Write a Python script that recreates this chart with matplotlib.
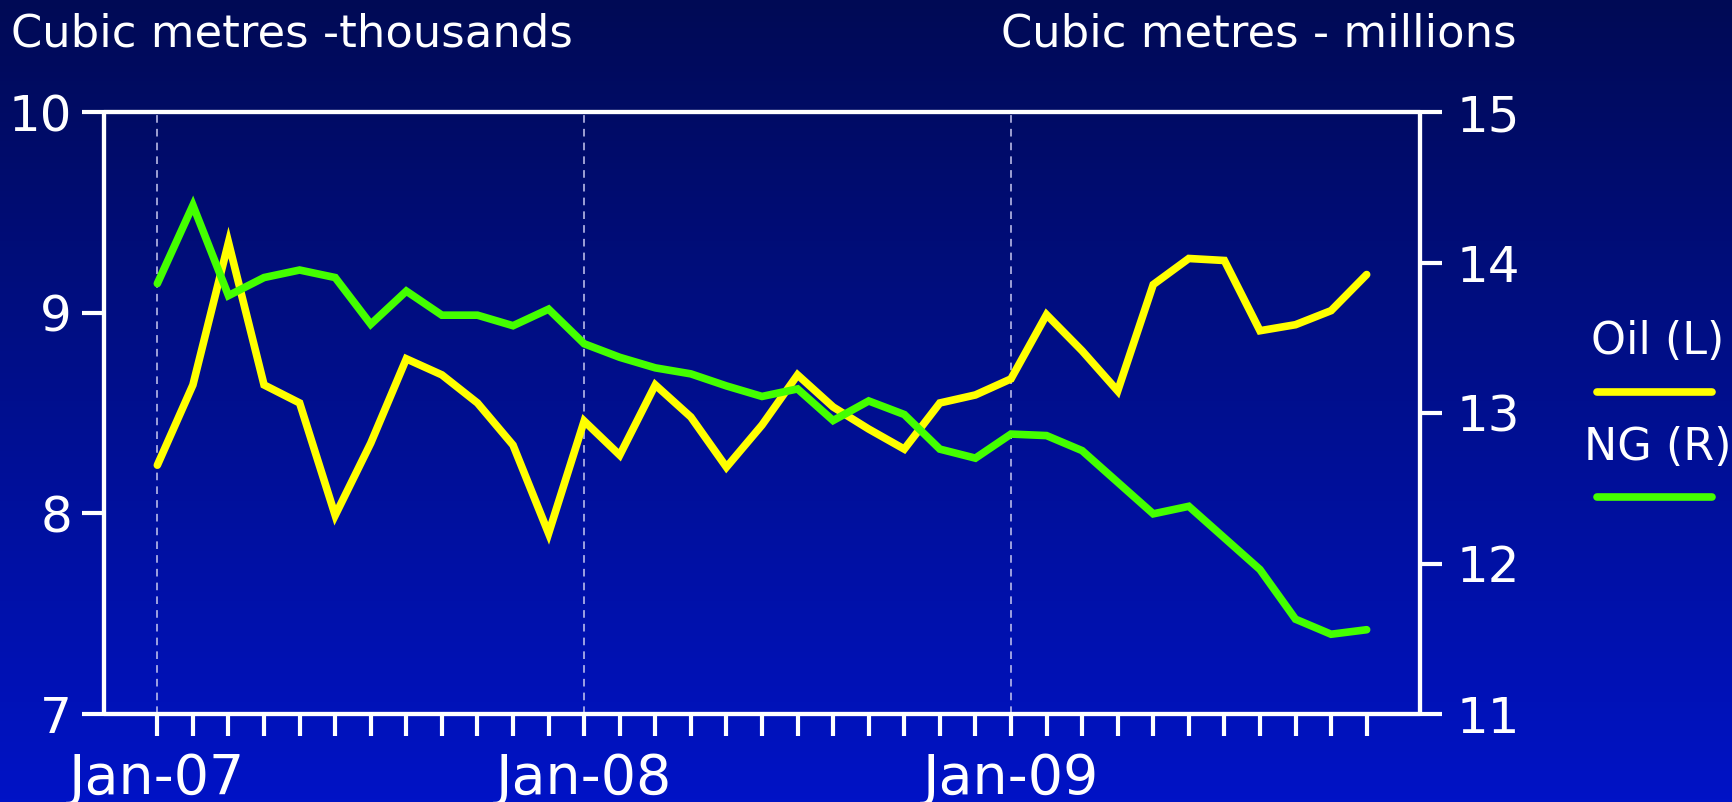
import numpy as np
import matplotlib
matplotlib.use("Agg")
import matplotlib.pyplot as plt
from matplotlib.lines import Line2D
from matplotlib.colors import LinearSegmentedColormap

# ---------------- data ----------------
month_labels = ["Jan-07", "Feb-07", "Mar-07", "Apr-07", "May-07", "Jun-07", "Jul-07", "Aug-07",
                "Sep-07", "Oct-07", "Nov-07", "Dec-07",
                "Jan-08", "Feb-08", "Mar-08", "Apr-08", "May-08", "Jun-08", "Jul-08", "Aug-08",
                "Sep-08", "Oct-08", "Nov-08", "Dec-08",
                "Jan-09", "Feb-09", "Mar-09", "Apr-09", "May-09", "Jun-09", "Jul-09", "Aug-09",
                "Sep-09", "Oct-09", "Nov-09"]
shown_labels = ["Jan-07", "Jan-08", "Jan-09"]

oil = [8.24, 8.64, 9.35, 8.64, 8.55, 7.99, 8.35, 8.77, 8.69, 8.55, 8.34, 7.90,
       8.46, 8.29, 8.64, 8.48, 8.23, 8.44, 8.69, 8.53, 8.42, 8.32, 8.55, 8.59,
       8.67, 8.99, 8.81, 8.61, 9.14, 9.27, 9.26, 8.91, 8.94, 9.01, 9.19]

ng = [13.86, 14.38, 13.78, 13.90, 13.95, 13.90, 13.59, 13.81, 13.65, 13.65, 13.58, 13.69,
      13.46, 13.37, 13.30, 13.26, 13.18, 13.11, 13.16, 12.95, 13.08, 12.99, 12.76, 12.70,
      12.86, 12.85, 12.75, 12.54, 12.33, 12.38, 12.17, 11.96, 11.63, 11.53, 11.56]

left_ticks = [7, 8, 9, 10]
right_ticks = [11, 12, 13, 14, 15]

left_title = "Cubic metres -thousands"
right_title = "Cubic metres - millions"
series_names = ["Oil (L)", "NG (R)"]

# ---------------- style ----------------
plt.rcParams['font.family'] = ['DejaVu Sans']
WHITE = "white"
OIL_C = "#ffff00"
NG_C = "#44ff00"

fig = plt.figure(figsize=(17.32, 8.02), dpi=100)

# gradient background
bg = fig.add_axes([0, 0, 1, 1], zorder=-10)
cmap = LinearSegmentedColormap.from_list("bg", ["#000a55", "#000f8e", "#0013c6"])
grad = np.linspace(0, 1, 256).reshape(-1, 1)
bg.imshow(grad, aspect="auto", cmap=cmap, extent=[0, 1, 0, 1], origin="upper")
bg.set_axis_off()

ax = fig.add_axes([104 / 1732, 1 - 714 / 802, (1420 - 104) / 1732, (714 - 112) / 802])
ax.set_facecolor("none")
ax2 = ax.twinx()
ax2.set_facecolor("none")

x = np.arange(len(month_labels))

ax.plot(x, oil, color=OIL_C, lw=5.5, solid_joinstyle="miter", solid_capstyle="round", zorder=3)
ax2.plot(x, ng, color=NG_C, lw=5.5, solid_joinstyle="miter", solid_capstyle="round", zorder=3)

ax.set_xlim(-1.5, 35.5)
ax.set_ylim(7, 10)
ax2.set_ylim(11, 15)

# vertical dashed gridlines at Januaries
for i, lab in enumerate(month_labels):
    if lab in shown_labels:
        ax.axvline(i, color="#c8c8f0", lw=1.1, ls=(0, (5, 4)), zorder=1)

ax.set_xticks(x)
ax.set_xticklabels([lab if lab in shown_labels else "" for lab in month_labels])
ax.set_yticks(left_ticks)
ax2.set_yticks(right_ticks)

for a in (ax, ax2):
    for s in a.spines.values():
        s.set_color(WHITE)
        s.set_linewidth(3)
        s.set_capstyle("round")

ax.tick_params(axis="x", direction="out", length=16, width=3, color=WHITE,
               labelcolor=WHITE, labelsize=40, pad=11)
ax.tick_params(axis="y", direction="out", length=16, width=3, color=WHITE,
               labelcolor=WHITE, labelsize=36, pad=7)
ax2.tick_params(axis="y", direction="out", length=16, width=3, color=WHITE,
                labelcolor=WHITE, labelsize=36, pad=10)

# axis titles
fig.text(11 / 1732, 1 - 34 / 802, left_title, color=WHITE, fontsize=32.3,
         ha="left", va="center")
fig.text(1517 / 1732, 1 - 34 / 802, right_title, color=WHITE, fontsize=32.3,
         ha="right", va="center")

# legend (text above line)
leg_x0, leg_x1 = 1597 / 1732, 1712 / 1732
leg_cx = (leg_x0 + leg_x1) / 2 + 0.002
for name, col, ty, ly in [(series_names[0], OIL_C, 342, 392), (series_names[1], NG_C, 447, 497)]:
    fig.text(leg_cx, 1 - ty / 802, name, color=WHITE, fontsize=32, ha="center", va="center")
    fig.add_artist(Line2D([leg_x0, leg_x1], [1 - ly / 802, 1 - ly / 802], color=col, lw=5.5,
                          solid_capstyle="round", transform=fig.transFigure))

fig.savefig("out.png", dpi=100)
